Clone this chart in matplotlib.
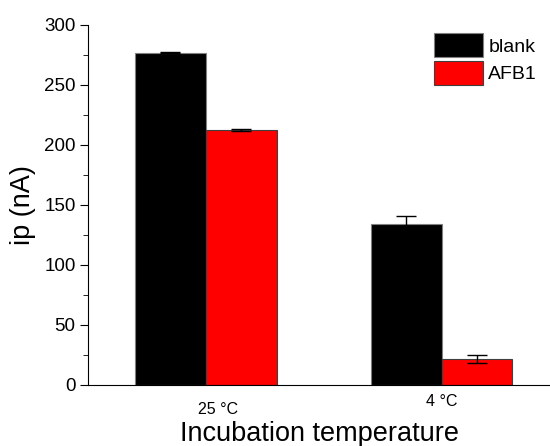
import numpy as np
import matplotlib.pyplot as plt
from matplotlib.ticker import MultipleLocator
from matplotlib.transforms import ScaledTranslation

groups = ['25 \u00b0C', '4 \u00b0C']
blank = [277, 134.5]
blank_err = [0.5, 6]
afb1 = [212.5, 21.5]
afb1_err = [1.2, 3.5]

plt.rcParams['font.family'] = ['Liberation Sans', 'DejaVu Sans']

fig = plt.figure(figsize=(5.5, 4.46), dpi=100)
ax = fig.add_axes([0.16, 0.137, 0.84, 0.807])

x = np.arange(1, len(groups) + 1)
w = 0.3
ax.bar(x - w/2, blank, w, color='black', edgecolor='#808080', linewidth=0.8,
       yerr=blank_err, capsize=7, error_kw=dict(ecolor='black', elinewidth=1, capthick=1),
       label='blank')
ax.bar(x + w/2, afb1, w, color='#ff0000', edgecolor='#404040', linewidth=0.8,
       yerr=afb1_err, capsize=7, error_kw=dict(ecolor='black', elinewidth=1, capthick=1),
       label='AFB1')

ax.set_xlim(0.5, 2.46)
ax.set_ylim(0, 300)
ax.yaxis.set_major_locator(MultipleLocator(50))
ax.yaxis.set_minor_locator(MultipleLocator(25))
ax.tick_params(axis='y', which='major', direction='out', length=6, labelsize=13.5, pad=3)
ax.tick_params(axis='y', which='minor', direction='out', length=3.5)
ax.set_xticks(x)
ax.set_xticklabels(groups, fontsize=11.5)
ax.tick_params(axis='x', length=0, pad=12)
# the two labels are not quite centred under the groups in the reference
lbls = ax.get_xticklabels()
lbls[0].set_transform(lbls[0].get_transform() + ScaledTranslation(0.12, 0, fig.dpi_scale_trans))
lbls[1].set_y(0.02)

for s in ['top', 'right']:
    ax.spines[s].set_visible(False)

ax.set_ylabel('ip (nA)', fontsize=19.5, labelpad=6)
ax.set_xlabel('Incubation temperature', fontsize=19.5, labelpad=3)

ax.legend(loc='upper right', bbox_to_anchor=(1.01, 1.025), frameon=False, fontsize=14,
          handlelength=2.5, handleheight=1.5, handletextpad=0.3, labelspacing=0.2)

fig.savefig('out.png', dpi=100)
